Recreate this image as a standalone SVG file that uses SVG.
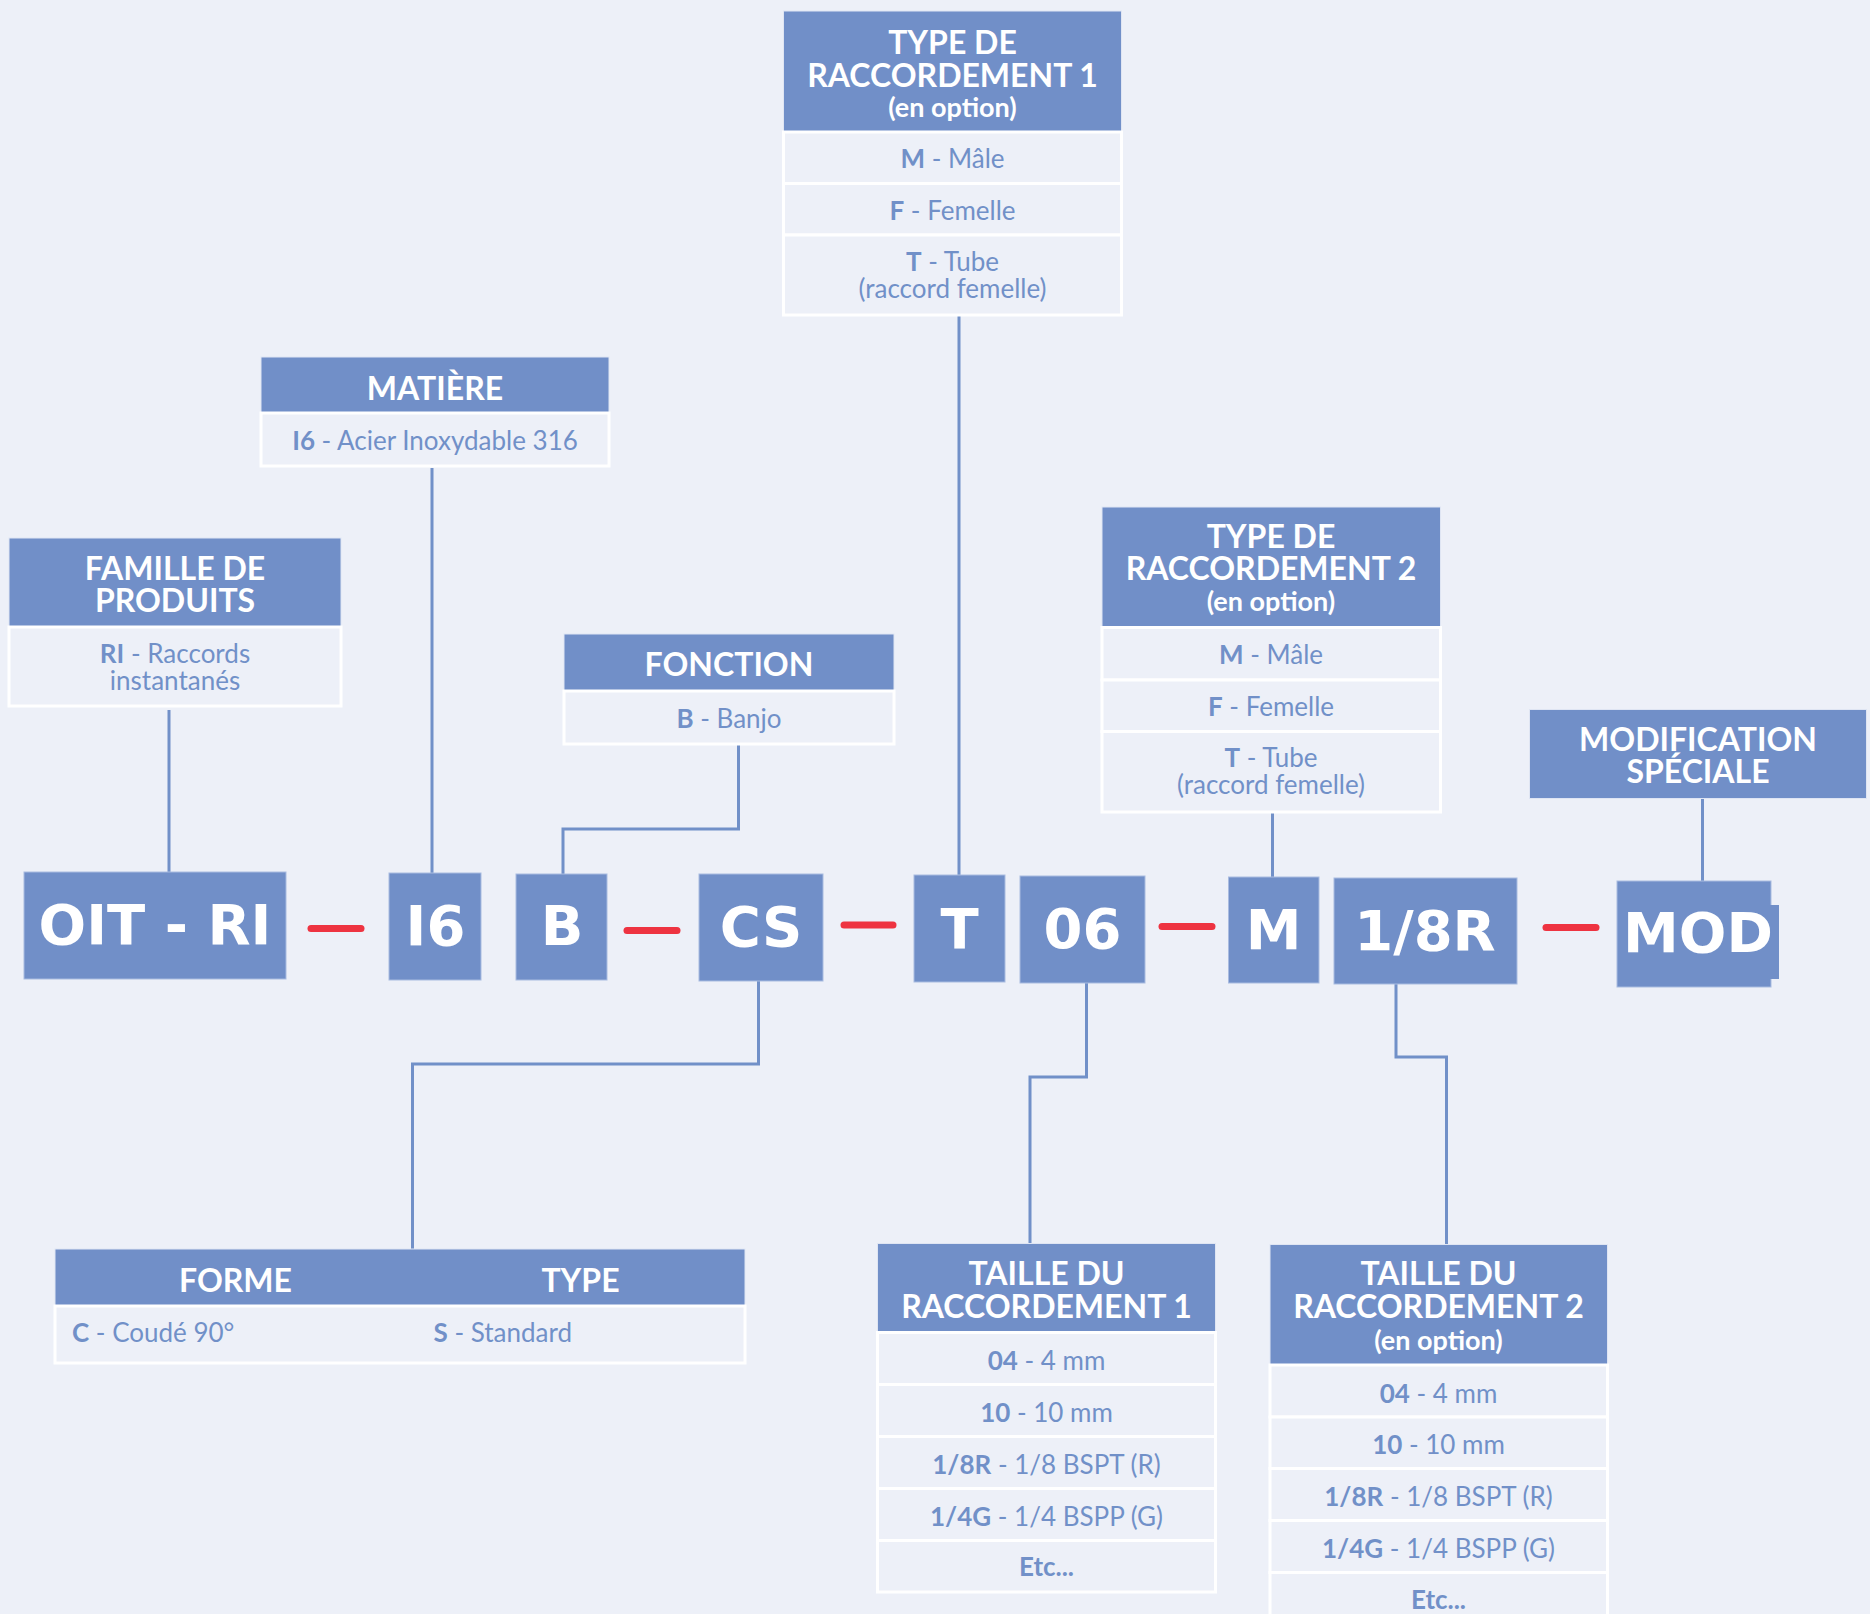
<svg xmlns="http://www.w3.org/2000/svg" width="1870" height="1614" viewBox="0 0 1870 1614">
<style>
.hd{fill:#718fc8;stroke:#dfe5f3;stroke-width:1}
.row{fill:#edf0f8;stroke:#ffffff;stroke-width:3}
.ht{font-family:Lato,"Open Sans",sans-serif;font-weight:700;font-size:32px;fill:#ffffff;text-anchor:middle}
.hs{font-size:27px}
.rt{font-family:Lato,"Open Sans",sans-serif;font-size:26px;fill:#7190c8;text-anchor:middle}
.st{text-anchor:start}
.b{font-weight:700}
.code{fill:#718fc8;stroke:#a9bbe0;stroke-width:1}
.ct{font-family:"DejaVu Sans",Verdana,sans-serif;font-weight:700;font-size:56px;fill:#ffffff;text-anchor:middle}
.ln{fill:none;stroke:#7190c8;stroke-width:3}
.dash{stroke:#ee3341;stroke-width:7;stroke-linecap:round}
</style>
<rect width="1870" height="1614" fill="#edf0f8"/>

<g id="connectors">
  <path class="ln" d="M169 710 V872"/>
  <path class="ln" d="M432 468 V873"/>
  <path class="ln" d="M738.5 745 V829 H563 V874"/>
  <path class="ln" d="M959 316 V875"/>
  <path class="ln" d="M1272.5 812 V877"/>
  <path class="ln" d="M1702.5 798 V881"/>
  <path class="ln" d="M758.5 981 V1064 H412.5 V1249"/>
  <path class="ln" d="M1086.5 982 V1077 H1030 V1243"/>
  <path class="ln" d="M1396 984 V1057 H1446.5 V1244"/>
</g>

<g id="dashes">
  <line class="dash" x1="311" y1="928.5" x2="361" y2="928.5"/>
  <line class="dash" x1="627" y1="930.5" x2="677" y2="930.5"/>
  <line class="dash" x1="844" y1="925" x2="893" y2="925"/>
  <line class="dash" x1="1162" y1="926.5" x2="1212" y2="926.5"/>
  <line class="dash" x1="1546" y1="927.5" x2="1596" y2="927.5"/>
</g>

<g id="code-OITRI">
  <rect class="code" x="24" y="872" width="262" height="107"/>
  <text class="ct" x="155" y="944">OIT - RI</text>
</g>
<g id="code-I6">
  <rect class="code" x="389" y="873" width="92" height="107"/>
  <text class="ct" x="435.5" y="945">I6</text>
</g>
<g id="code-B">
  <rect class="code" x="516" y="874" width="91" height="106"/>
  <text class="ct" x="562" y="945">B</text>
</g>
<g id="code-CS">
  <rect class="code" x="699" y="874" width="124" height="107"/>
  <text class="ct" x="761" y="946">CS</text>
</g>
<g id="code-T">
  <rect class="code" x="914" y="875" width="91" height="107"/>
  <text class="ct" x="959.5" y="947.5">T</text>
</g>
<g id="code-06">
  <rect class="code" x="1020" y="876" width="125" height="107"/>
  <text class="ct" x="1082.5" y="948">06</text>
</g>
<g id="code-M">
  <rect class="code" x="1228.5" y="877" width="90.5" height="106"/>
  <text class="ct" x="1273.5" y="948.5">M</text>
</g>
<g id="code-18R">
  <rect class="code" x="1334" y="878" width="183" height="106"/>
  <text class="ct" x="1425" y="949.5">1/8R</text>
</g>
<g id="code-MOD">
  <rect class="code" x="1617" y="881" width="154" height="106"/>
  <rect x="1769" y="905" width="10" height="74" fill="#718fc8"/>
  <text class="ct" x="1698" y="952">MOD</text>
</g>

<g id="node-famille">
  <rect class="hd" x="9" y="538" width="332" height="89"/>
  <rect class="row" x="9" y="627" width="332" height="79"/>
  <text class="ht" x="175" y="580">FAMILLE DE<tspan x="175" dy="32">PRODUITS</tspan></text>
  <text class="rt" x="175" y="663"><tspan class="b">RI</tspan> - Raccords<tspan x="175" dy="27">instantanés</tspan></text>
</g>

<g id="node-matiere">
  <rect class="hd" x="261" y="357" width="348" height="56"/>
  <rect class="row" x="261" y="413" width="348" height="53"/>
  <text class="ht" x="435" y="399.5">MATIÈRE</text>
  <text class="rt" x="435" y="450"><tspan class="b">I6</tspan> - Acier Inoxydable 316</text>
</g>

<g id="node-fonction">
  <rect class="hd" x="564" y="634" width="330" height="57"/>
  <rect class="row" x="564" y="691" width="330" height="53"/>
  <text class="ht" x="729" y="676">FONCTION</text>
  <text class="rt" x="729" y="728"><tspan class="b">B</tspan> - Banjo</text>
</g>

<g id="node-type1">
  <rect class="hd" x="783.5" y="11" width="338" height="121"/>
  <rect class="row" x="783.5" y="132" width="338" height="51.5"/>
  <rect class="row" x="783.5" y="183.5" width="338" height="51.5"/>
  <rect class="row" x="783.5" y="235" width="338" height="80"/>
  <text class="ht" x="952.5" y="53.5">TYPE DE<tspan x="952.5" dy="33">RACCORDEMENT 1</tspan><tspan class="hs" x="952.5" dy="30.5">(en option)</tspan></text>
  <text class="rt" x="952.5" y="168"><tspan class="b">M</tspan> - Mâle</text>
  <text class="rt" x="952.5" y="220"><tspan class="b">F</tspan> - Femelle</text>
  <text class="rt" x="952.5" y="271"><tspan class="b">T</tspan> - Tube<tspan x="952.5" dy="26.5">(raccord femelle)</tspan></text>
</g>

<g id="node-type2">
  <rect class="hd" x="1102" y="507" width="338.5" height="120.5"/>
  <rect class="row" x="1102" y="627.5" width="338.5" height="52.5"/>
  <rect class="row" x="1102" y="680" width="338.5" height="51.5"/>
  <rect class="row" x="1102" y="731.5" width="338.5" height="80.5"/>
  <text class="ht" x="1271" y="547.5">TYPE DE<tspan x="1271" dy="32">RACCORDEMENT 2</tspan><tspan class="hs" x="1271" dy="31.5">(en option)</tspan></text>
  <text class="rt" x="1271" y="663.5"><tspan class="b">M</tspan> - Mâle</text>
  <text class="rt" x="1271" y="715.5"><tspan class="b">F</tspan> - Femelle</text>
  <text class="rt" x="1271" y="767"><tspan class="b">T</tspan> - Tube<tspan x="1271" dy="27">(raccord femelle)</tspan></text>
</g>

<g id="node-modif">
  <rect class="hd" x="1529.5" y="709.5" width="337" height="89"/>
  <text class="ht" x="1698" y="750.5">MODIFICATION<tspan x="1698" dy="32">SPÉCIALE</tspan></text>
</g>

<g id="node-forme-type">
  <rect class="hd" x="55" y="1249" width="690" height="57"/>
  <rect class="row" x="55" y="1306" width="690" height="57"/>
  <text class="ht" x="235.5" y="1291.5">FORME</text>
  <text class="ht" x="580.5" y="1291.5">TYPE</text>
  <text class="rt st" x="72" y="1342"><tspan class="b">C</tspan> - Coudé 90°</text>
  <text class="rt st" x="433.5" y="1342"><tspan class="b">S</tspan> - Standard</text>
</g>

<g id="node-taille1">
  <rect class="hd" x="877.5" y="1243.5" width="338" height="89"/>
  <rect class="row" x="877.5" y="1332.5" width="338" height="52"/>
  <rect class="row" x="877.5" y="1384.5" width="338" height="52"/>
  <rect class="row" x="877.5" y="1436.5" width="338" height="52"/>
  <rect class="row" x="877.5" y="1488.5" width="338" height="52"/>
  <rect class="row" x="877.5" y="1540.5" width="338" height="51.5"/>
  <text class="ht" x="1046.5" y="1285">TAILLE DU<tspan x="1046.5" dy="32.5">RACCORDEMENT 1</tspan></text>
  <text class="rt" x="1046.5" y="1369.5"><tspan class="b">04</tspan> - 4 mm</text>
  <text class="rt" x="1046.5" y="1421.5"><tspan class="b">10</tspan> - 10 mm</text>
  <text class="rt" x="1046.5" y="1473.5"><tspan class="b">1/8R</tspan> - 1/8 BSPT (R)</text>
  <text class="rt" x="1046.5" y="1525.5"><tspan class="b">1/4G</tspan> - 1/4 BSPP (G)</text>
  <text class="rt b" x="1046.5" y="1575.5">Etc...</text>
</g>

<g id="node-taille2">
  <rect class="hd" x="1270" y="1244.5" width="337.5" height="120.5"/>
  <rect class="row" x="1270" y="1365" width="337.5" height="52"/>
  <rect class="row" x="1270" y="1417" width="337.5" height="51.5"/>
  <rect class="row" x="1270" y="1468.5" width="337.5" height="52"/>
  <rect class="row" x="1270" y="1520.5" width="337.5" height="52"/>
  <rect class="row" x="1270" y="1572.5" width="337.5" height="60"/>
  <text class="ht" x="1438.5" y="1285">TAILLE DU<tspan x="1438.5" dy="33">RACCORDEMENT 2</tspan><tspan class="hs" x="1438.5" dy="32">(en option)</tspan></text>
  <text class="rt" x="1438.5" y="1402.5"><tspan class="b">04</tspan> - 4 mm</text>
  <text class="rt" x="1438.5" y="1454"><tspan class="b">10</tspan> - 10 mm</text>
  <text class="rt" x="1438.5" y="1506"><tspan class="b">1/8R</tspan> - 1/8 BSPT (R)</text>
  <text class="rt" x="1438.5" y="1557.5"><tspan class="b">1/4G</tspan> - 1/4 BSPP (G)</text>
  <text class="rt b" x="1438.5" y="1608.5">Etc...</text>
</g>
</svg>
